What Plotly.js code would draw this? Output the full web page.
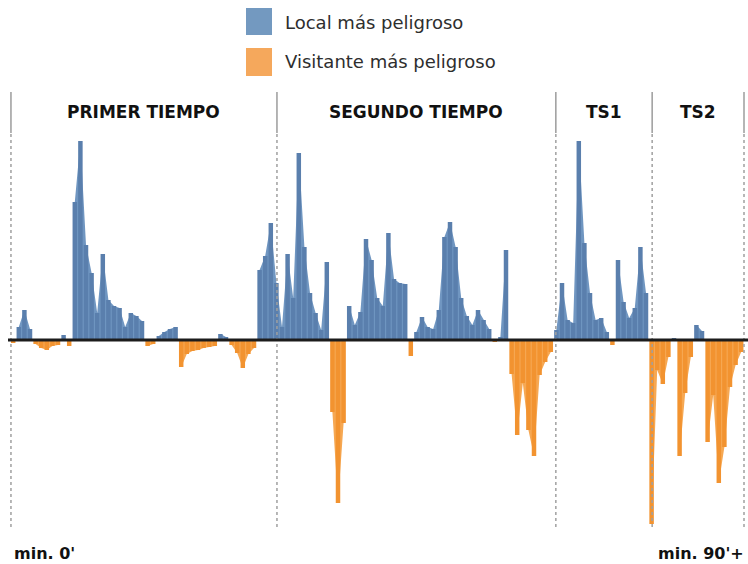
<!DOCTYPE html>
<html>
<head>
<meta charset="utf-8">
<script src="https://cdn.plot.ly/plotly-3.0.1.min.js"></script>
<style>
  html, body { margin: 0; padding: 0; background: #ffffff; }
  #chart { width: 748px; height: 564px; }
</style>
</head>
<body>
<div id="chart"></div>
<script>
// ---- Data (signed: + local más peligroso, - visitante más peligroso) ----
const primerTiempo = [-3, 13, 30, 11, -4, -8, -10, -6, -5, 5, -6, 138, 199, 95, 67, 27, 86, 40, 34, 32,
  13, 27, 24, 19, -6, -4, 4, 8, 11, 13, -27, -14, -11, -10, -8, -7, -6, 6, 3, -5,
  -13, -28, -14, -8, 70, 84, 117, 57];
const segundoTiempo = [13, 86, 42, 187, 93, 47, 27, 10, 78, -72, -163, -83, 34, 15, 28, 101, 80, 42, 34, 107,
  61, 57, 56, -16, 8, 23, 13, 11, 30, 103, 118, 93, 42, 24, 15, 30, 20, 11, -2, 3,
  90, -34, -95, -43, -90, -116, -35, -22, -12];
const ts1 = [10, 57, 20, 17, 199, 97, 47, 20, 22, 8, -5, 80, 38, 22, 32, 93, 47];
const ts2 = [-184, -30, -44, -17, 2, -116, -53, -17, 15, 9, -102, -55, -143, -107, -47, -25, -12];

const secciones = ['PRIMER TIEMPO', 'SEGUNDO TIEMPO', 'TS1', 'TS2'];
const limites = [-0.4, 47.1, 96.9, 114.1, 130.5];
const leyenda = ['Local más peligroso', 'Visitante más peligroso'];
const extremos = ["min. 0'", "min. 90'+"];

// ---- Build traces ----
const valores = primerTiempo.concat(segundoTiempo, ts1, ts2);
const xs = valores.map((_, i) => i);
const local = valores.map(v => v > 0 ? v : null);
const visitante = valores.map(v => v < 0 ? v : null);

// area polygons: one closed shape per run of consecutive values
function areaPolys(arr) {
  const px = [], py = [];
  let i = 0;
  while (i < arr.length) {
    if (arr[i] === null) { i++; continue; }
    let j = i;
    while (j + 1 < arr.length && arr[j + 1] !== null) j++;
    if (j > i) {
      px.push(xs[i]); py.push(0);
      for (let k = i; k <= j; k++) { px.push(xs[k]); py.push(arr[k]); }
      px.push(xs[j]); py.push(0);
      px.push(null); py.push(null);
    }
    i = j + 1;
  }
  return { x: px, y: py };
}
const aL = areaPolys(local);
const aV = areaPolys(visitante);

const BLUE = '#5a7fad', BLUE_AREA = '#7096c1';
const ORANGE = '#f29330', ORANGE_AREA = '#f6a853';

const traces = [
  { type: 'scatter', x: aL.x, y: aL.y, mode: 'lines', line: { width: 0, color: BLUE_AREA },
    fill: 'toself', fillcolor: BLUE_AREA, connectgaps: false, hoverinfo: 'skip', xaxis: 'x', yaxis: 'y' },
  { type: 'scatter', x: aV.x, y: aV.y, mode: 'lines', line: { width: 0, color: ORANGE_AREA },
    fill: 'toself', fillcolor: ORANGE_AREA, connectgaps: false, hoverinfo: 'skip', xaxis: 'x', yaxis: 'y' },
  { type: 'bar', x: xs, y: local, width: 0.8, marker: { color: BLUE, line: { width: 0 } },
    xaxis: 'x2', yaxis: 'y2', name: leyenda[0] },
  { type: 'bar', x: xs, y: visitante, width: 0.8, marker: { color: ORANGE, line: { width: 0 } },
    xaxis: 'x2', yaxis: 'y2', name: leyenda[1] }
];

const XR = [-2.357, 131.214];
const YR = [-224, 340];
const axX = { range: XR, visible: false, showgrid: false, zeroline: false, fixedrange: true };
const axY = { range: YR, visible: false, showgrid: false, zeroline: false, fixedrange: true };

const shapes = [];
const annotations = [];

// separators
limites.forEach(lx => {
  shapes.push({ type: 'line', xref: 'x', yref: 'y', x0: lx, x1: lx, y0: 207, y1: 248,
    line: { color: '#9c9c9c', width: 1.5 } });
  shapes.push({ type: 'line', xref: 'x', yref: 'y', x0: lx, x1: lx, y0: -187, y1: 207,
    line: { color: '#a0a0a0', width: 1.5, dash: 'dot' } });
});
// zero line
shapes.push({ type: 'line', xref: 'paper', yref: 'y', x0: 0.0107, x1: 1, y0: 0, y1: 0,
  line: { color: '#1c1c1c', width: 3 }, layer: 'above' });

// section titles
secciones.forEach((s, i) => {
  annotations.push({ text: '<b>' + s + '</b>', xref: 'x', yref: 'y',
    x: (limites[i] + limites[i + 1]) / 2, y: 228, showarrow: false,
    xanchor: 'center', yanchor: 'middle',
    font: { family: 'DejaVu Sans', size: 17, color: '#111111' } });
});

// legend
const swatch = ['#7399c0', '#f5a85c'];
const legY = [[305, 332], [264, 292]];
const legTextY = [318, 279];
leyenda.forEach((t, i) => {
  shapes.push({ type: 'rect', xref: 'paper', yref: 'y', x0: 246 / 748, x1: 272 / 748,
    y0: legY[i][0], y1: legY[i][1], fillcolor: swatch[i], line: { width: 0 } });
  annotations.push({ text: t, xref: 'paper', yref: 'y', x: 283 / 748, y: legTextY[i],
    showarrow: false, xanchor: 'left', yanchor: 'middle',
    font: { family: 'DejaVu Sans', size: 18, color: '#2e2e2e' } });
});

// bottom labels
annotations.push({ text: '<b>' + extremos[0] + '</b>', xref: 'paper', yref: 'y', x: 12 / 748, y: -213,
  showarrow: false, xanchor: 'left', yanchor: 'middle',
  font: { family: 'DejaVu Sans', size: 16, color: '#111111' } });
annotations.push({ text: '<b>' + extremos[1] + '</b>', xref: 'paper', yref: 'y', x: 746 / 748, y: -213,
  showarrow: false, xanchor: 'right', yanchor: 'middle',
  font: { family: 'DejaVu Sans', size: 16, color: '#111111' } });

const layout = {
  width: 748, height: 564,
  margin: { l: 0, r: 0, t: 0, b: 0, pad: 0 },
  paper_bgcolor: '#ffffff', plot_bgcolor: 'rgba(0,0,0,0)',
  showlegend: false,
  barmode: 'overlay',
  xaxis: Object.assign({}, axX),
  yaxis: Object.assign({}, axY),
  xaxis2: Object.assign({}, axX, { overlaying: 'x' }),
  yaxis2: Object.assign({}, axY, { overlaying: 'y' }),
  shapes: shapes,
  annotations: annotations
};

Plotly.newPlot('chart', traces, layout, { displayModeBar: false, staticPlot: true });
</script>
</body>
</html>
